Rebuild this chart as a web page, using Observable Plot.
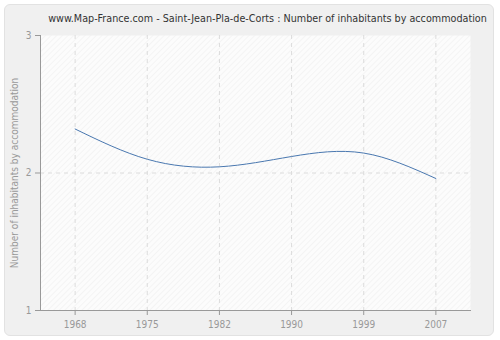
<!DOCTYPE html>
<html>
<head>
<meta charset="utf-8">
<script src="https://cdn.jsdelivr.net/npm/d3@7"></script>
<script src="https://cdn.jsdelivr.net/npm/@observablehq/plot@0.6"></script>
<style>
  html, body { margin: 0; padding: 0; background: #ffffff; }
  #wrap { position: relative; width: 500px; height: 340px; overflow: hidden;
          font-family: "DejaVu Sans Condensed", "Liberation Sans", sans-serif; }
  #panel { position: absolute; left: 4px; top: 4px; width: 488px; height: 330px;
           background: #f0f0f0; border: 1px solid #e2e2e2; border-radius: 6px; }
  #title { position: absolute; left: 40px; width: 455px; top: 12px; text-align: center;
           font-size: 10.7px; color: #333; white-space: nowrap; }
  #chart { position: absolute; left: 0; top: 0; }
</style>
</head>
<body>
<div id="wrap">
  <div id="panel"></div>
  <div id="title">www.Map-France.com - Saint-Jean-Pla-de-Corts : Number of inhabitants by accommodation</div>
  <div id="chart"></div>
</div>
<script>
const years = ["1968", "1975", "1982", "1990", "1999", "2007"];
const values = [2.32, 2.10, 2.045, 2.12, 2.145, 1.96];
const yTicks = [1, 2, 3];
const yLabel = "Number of inhabitants by accommodation";

const data = years.map((y, i) => ({year: y, value: values[i]}));

const plot = Plot.plot({
  width: 500,
  height: 340,
  marginTop: 35,
  marginBottom: 30,
  marginLeft: 40,
  marginRight: 30,
  style: {background: "transparent", fontFamily: "'DejaVu Sans Condensed', 'Liberation Sans', sans-serif", fontSize: "10px", color: "#999", overflow: "visible"},
  x: {type: "point", domain: years, padding: 0.48, round: false},
  y: {domain: [1, 3]},
  marks: [
    Plot.frame({fill: "url(#hatch)", stroke: null}),
    Plot.gridX(years, {stroke: "#dcdcdc", strokeOpacity: 1, strokeDasharray: "4,4"}),
    Plot.gridY([2], {stroke: "#dcdcdc", strokeOpacity: 1, strokeDasharray: "4,4"}),
    Plot.frame({anchor: "left", stroke: "#999"}),
    Plot.frame({anchor: "bottom", stroke: "#999"}),
    Plot.axisX({ticks: years, tickSize: 5, tickPadding: 5, stroke: "#999", fill: "#999", label: null}),
    Plot.axisY({ticks: yTicks, tickSize: 5, tickPadding: 4, stroke: "#999", fill: "#999",
                tickFormat: d3.format("d"), label: yLabel, labelAnchor: "center", labelOffset: 30, labelArrow: "none"}),
    Plot.line(data, {x: "year", y: "value", curve: "natural", stroke: "#4a78b0", strokeWidth: 1})
  ]
});

// hatch pattern for the plotting area
const ns = "http://www.w3.org/2000/svg";
const defs = document.createElementNS(ns, "defs");
defs.innerHTML = `<pattern id="hatch" patternUnits="userSpaceOnUse" width="4" height="4" patternTransform="rotate(45)">
  <rect width="4" height="4" fill="#fcfcfc"></rect>
  <line x1="0" y1="0" x2="0" y2="4" stroke="#efefef" stroke-width="1.2"></line>
</pattern>`;
plot.insertBefore(defs, plot.firstChild);

document.getElementById("chart").appendChild(plot);
</script>
</body>
</html>
